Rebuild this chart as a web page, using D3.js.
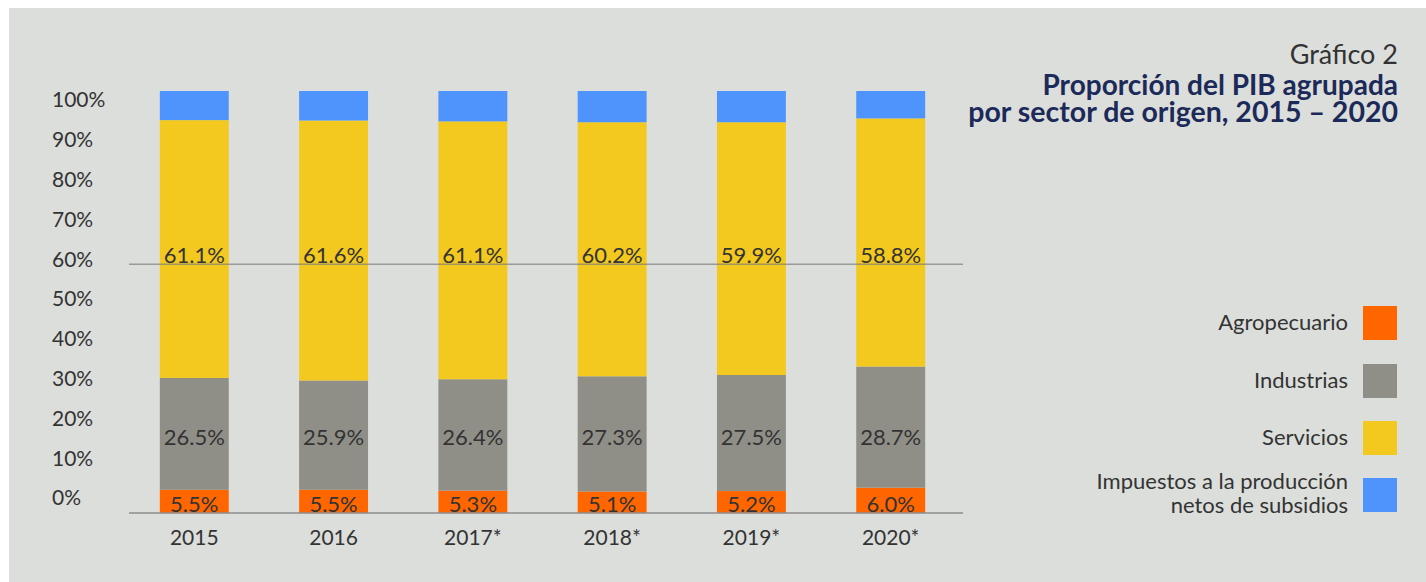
<!DOCTYPE html>
<html>
<head>
<meta charset="utf-8">
<script src="https://cdn.jsdelivr.net/npm/d3@7"></script>
<style>
  body { margin: 0; background: #ffffff; }
  text { font-family: Lato, "Open Sans", sans-serif; }
</style>
</head>
<body>
<div id="chart"></div>
<script>
// Chart data
var years = ["2015", "2016", "2017*", "2018*", "2019*", "2020*"];
var agropecuario = [5.5, 5.5, 5.3, 5.1, 5.2, 6.0];
var industrias = [26.5, 25.9, 26.4, 27.3, 27.5, 28.7];
var servicios = [61.1, 61.6, 61.1, 60.2, 59.9, 58.8];
var impuestos = [6.9, 7.0, 7.2, 7.4, 7.4, 6.5];
var yTicks = [0, 10, 20, 30, 40, 50, 60, 70, 80, 90, 100];
var seriesNames = ["Agropecuario", "Industrias", "Servicios", "Impuestos a la producción\nnetos de subsidios"];
var seriesColors = ["#ff6600", "#8f8f88", "#f3c920", "#4f94fd"];

var svgWidth = 1426;
var svgHeight = 582;

var svg = d3.select("#chart")
  .append("svg")
  .attr("width", svgWidth)
  .attr("height", svgHeight);

// Background panel
svg.append("rect")
  .attr("x", 9)
  .attr("y", 8)
  .attr("width", svgWidth - 9)
  .attr("height", svgHeight - 8)
  .attr("fill", "#dcdedb");

// Build stacked rows
var keys = ["agro", "ind", "serv", "imp"];
var rows = years.map(function(y, i) {
  return { year: y, agro: agropecuario[i], ind: industrias[i], serv: servicios[i], imp: impuestos[i] };
});
var stack = d3.stack().keys(keys)(rows);

// Scales
var xScale = d3.scaleBand()
  .domain(years)
  .range([125, 960])
  .paddingInner(0.505)
  .paddingOuter(0.25);

var yScale = d3.scaleLinear()
  .domain([0, 100])
  .range([513, 91]);

// Tick labels sit on their own scale, as in the original
var tickScale = d3.scaleLinear()
  .domain([0, 100])
  .range([498, 100]);

// Bars
var layers = svg.append("g").selectAll("g")
  .data(stack)
  .enter()
  .append("g")
  .attr("fill", (d, i) => seriesColors[i]);

layers.selectAll("rect")
  .data(d => d)
  .enter()
  .append("rect")
  .attr("x", d => xScale(d.data.year))
  .attr("y", d => yScale(d[1]))
  .attr("width", xScale.bandwidth())
  .attr("height", d => yScale(d[0]) - yScale(d[1]));

// Y axis labels
svg.append("g").selectAll("text")
  .data(yTicks)
  .enter()
  .append("text")
  .attr("x", 52)
  .attr("y", d => tickScale(d))
  .attr("dy", "0.35em")
  .attr("font-size", 21)
  .attr("fill", "#333")
  .text(d => d + "%");

// Grid line at 60% and baseline
svg.append("line")
  .attr("x1", 129).attr("x2", 963)
  .attr("y1", tickScale(60) + 5).attr("y2", tickScale(60) + 5)
  .attr("stroke", "#7d7d7d")
  .attr("stroke-opacity", 0.7)
  .attr("stroke-width", 1.5);

svg.append("line")
  .attr("x1", 129).attr("x2", 963)
  .attr("y1", yScale(0)).attr("y2", yScale(0))
  .attr("stroke", "#8d8d8d")
  .attr("stroke-width", 1.5);

// Value labels, aligned in rows as in the original
var labelGroup = svg.append("g")
  .attr("font-size", 22)
  .attr("fill", "#333")
  .attr("text-anchor", "middle");

labelGroup.selectAll(".agroText")
  .data(stack[0])
  .enter()
  .append("text")
  .attr("x", d => xScale(d.data.year) + xScale.bandwidth() / 2)
  .attr("y", yScale(0) - 1)
  .text(d => d.data.agro.toFixed(1) + "%");

labelGroup.selectAll(".indText")
  .data(stack[1])
  .enter()
  .append("text")
  .attr("x", d => xScale(d.data.year) + xScale.bandwidth() / 2)
  .attr("y", yScale(18))
  .attr("dy", "0.35em")
  .text(d => d.data.ind.toFixed(1) + "%");

labelGroup.selectAll(".servText")
  .data(stack[2])
  .enter()
  .append("text")
  .attr("x", d => xScale(d.data.year) + xScale.bandwidth() / 2)
  .attr("y", yScale(61))
  .attr("dy", "0.35em")
  .text(d => d.data.serv.toFixed(1) + "%");

// X axis labels
svg.append("g").selectAll("text")
  .data(years)
  .enter()
  .append("text")
  .attr("x", d => xScale(d) + xScale.bandwidth() / 2)
  .attr("y", 538)
  .attr("dy", "0.35em")
  .attr("text-anchor", "middle")
  .attr("font-size", 21)
  .attr("fill", "#333")
  .text(d => d);

// Title
var title = svg.append("g").attr("text-anchor", "end");
title.append("text")
  .attr("x", 1398).attr("y", 64)
  .attr("font-size", 27)
  .attr("fill", "#333")
  .text("Gráfico 2");
title.append("text")
  .attr("x", 1398).attr("y", 95)
  .attr("font-size", 28)
  .attr("font-weight", "bold")
  .attr("fill", "#1c2a5a")
  .text("Proporción del PIB agrupada");
title.append("text")
  .attr("x", 1398).attr("y", 122)
  .attr("font-size", 28.5)
  .attr("font-weight", "bold")
  .attr("fill", "#1c2a5a")
  .text("por sector de origen, 2015 – 2020");

// Legend
var legendY = [306, 364, 421, 478];
var legend = svg.append("g").selectAll("g")
  .data(seriesNames)
  .enter()
  .append("g")
  .attr("transform", (d, i) => `translate(0, ${legendY[i]})`);

legend.append("rect")
  .attr("x", 1363)
  .attr("width", 34)
  .attr("height", 34)
  .attr("fill", (d, i) => seriesColors[i]);

legend.each(function(d) {
  var lines = d.split("\n");
  var t = d3.select(this).append("text")
    .attr("text-anchor", "end")
    .attr("font-size", 22)
    .attr("fill", "#333");
  lines.forEach(function(line, j) {
    t.append("tspan")
      .attr("x", 1348)
      .attr("y", lines.length === 1 ? 24 : 11 + j * 24)
      .text(line);
  });
});
</script>
</body>
</html>
